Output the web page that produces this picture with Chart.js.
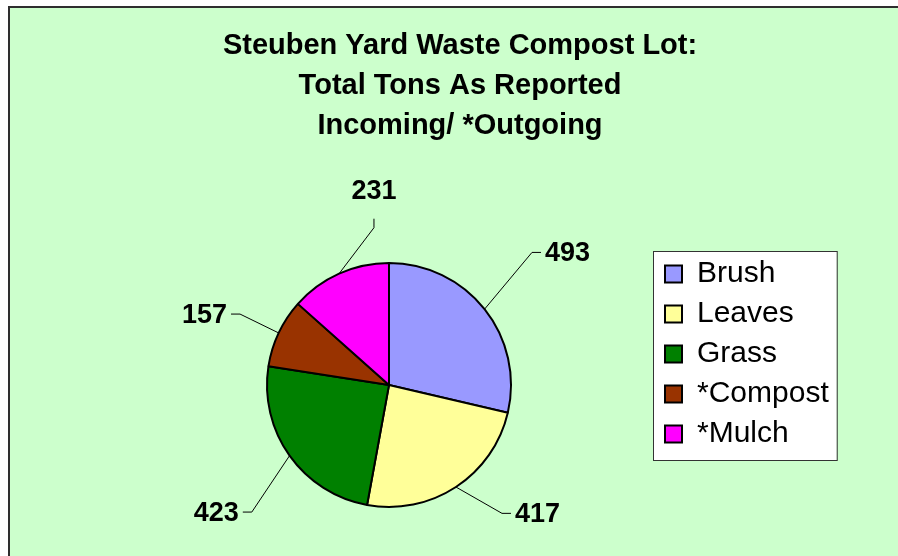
<!DOCTYPE html>
<html>
<head>
<meta charset="utf-8">
<title>Steuben Yard Waste Compost Lot</title>
<script src="https://cdn.jsdelivr.net/npm/chart.js@4/dist/chart.umd.min.js"></script>
<style>
    html, body {
        margin: 0;
        padding: 0;
        width: 898px;
        height: 556px;
        overflow: hidden;
        background: #ffffff;
    }
    .panel {
        position: absolute;
        left: 8px;
        top: 6px;
        width: 1000px;
        height: 1000px;
        border: 2px solid #2e2e2e;
        background: #ccffcc;
    }
    .chart-wrap {
        position: absolute;
        left: 0;
        top: 0;
        width: 898px;
        height: 556px;
    }
</style>
</head>
<body>
<div class="panel"></div>
<div class="chart-wrap"><canvas id="compostChart" width="898" height="556"></canvas></div>
<script>
// Chart data
const categories = ['Brush', 'Leaves', 'Grass', '*Compost', '*Mulch'];
const tons = [493, 417, 423, 157, 231];
const sliceColors = ['#9999ff', '#ffff99', '#008000', '#993300', '#ff00ff'];
const titleLines = ['Steuben Yard Waste Compost Lot:', 'Total Tons As Reported', 'Incoming/ *Outgoing'];

// Leader line layout (degrees turned from slice middle, px beyond the rim)
const leaderTurn = [-4.4, -8.1, -7.4, 0.2, 18.7];
const leaderReach = [73, 49, 65, 43, 36];

const FONT = '"Liberation Sans", Arial, Helvetica, sans-serif';
Chart.defaults.font.family = FONT;
Chart.defaults.color = '#000000';

/**
 * White framed box behind the legend
 */
const legendFrame = {
    id: 'legendFrame',
    afterLayout(chart) {
        // legend only reserves a narrow slot; let its labels run past it without clipping
        const legend = chart.legend;
        if (!legend) return;
        legend.width = 200;
        legend.right = legend.left + legend.width;
    },
    beforeDraw(chart) {
        const legend = chart.legend;
        if (!legend || !legend.legendHitBoxes || !legend.legendHitBoxes.length) return;
        const boxes = legend.legendHitBoxes;
        const first = boxes[0];
        const last = boxes[boxes.length - 1];
        const left = first.left - 12;
        const top = first.top - 8;
        const right = Math.max(...boxes.map(b => b.left + b.width)) + 8;
        const bottom = last.top + last.height + 11;
        const ctx = chart.ctx;
        ctx.save();
        ctx.fillStyle = '#ffffff';
        ctx.fillRect(left, top, right - left, bottom - top);
        ctx.strokeStyle = '#333333';
        ctx.lineWidth = 1;
        ctx.strokeRect(left + 0.5, top + 0.5, right - left, bottom - top);
        ctx.restore();
    }
};

/**
 * Value labels with leader lines
 */
const valueLabels = {
    id: 'valueLabels',
    afterDatasetsDraw(chart) {
        const ctx = chart.ctx;
        const meta = chart.getDatasetMeta(0);
        ctx.save();
        ctx.strokeStyle = '#000000';
        ctx.fillStyle = '#000000';
        ctx.lineWidth = 1;
        ctx.font = 'bold 27px ' + FONT;
        meta.data.forEach((arc, i) => {
            const p = arc.getProps(['x', 'y', 'startAngle', 'endAngle', 'outerRadius'], true);
            const mid = (p.startAngle + p.endAngle) / 2;
            const bend = mid + leaderTurn[i] * Math.PI / 180;
            const reach = p.outerRadius + leaderReach[i];
            const sx = p.x + Math.cos(mid) * p.outerRadius;
            const sy = p.y + Math.sin(mid) * p.outerRadius;
            const ex = p.x + Math.cos(bend) * reach;
            const ey = p.y + Math.sin(bend) * reach;
            const text = String(tons[i]);

            ctx.beginPath();
            ctx.moveTo(sx, sy);
            ctx.lineTo(ex, ey);
            if (Math.abs(Math.cos(bend)) < 0.25) {
                // label above / below the pie
                const dir = Math.sin(bend) < 0 ? -1 : 1;
                const ty = ey + dir * 9;
                ctx.lineTo(ex, ty);
                ctx.stroke();
                ctx.textAlign = 'center';
                ctx.textBaseline = 'middle';
                ctx.fillText(text, ex, ty + dir * 27);
            } else {
                const dir = Math.cos(bend) < 0 ? -1 : 1;
                const tx = ex + dir * 9;
                ctx.lineTo(tx, ey);
                ctx.stroke();
                ctx.textAlign = dir < 0 ? 'right' : 'left';
                ctx.textBaseline = 'middle';
                ctx.fillText(text, tx + dir * 4, ey + 1);
            }
        });
        ctx.restore();
    }
};

const ctx = document.getElementById('compostChart').getContext('2d');
new Chart(ctx, {
    type: 'pie',
    data: {
        labels: categories,
        datasets: [{
            data: tons,
            backgroundColor: sliceColors,
            borderColor: '#000000',
            borderWidth: 2,
            hoverOffset: 0,
            radius: 122
        }]
    },
    options: {
        responsive: false,
        animation: false,
        events: [],
        layout: {
            padding: { left: 123, right: 101, top: 6, bottom: 35 }
        },
        plugins: {
            title: {
                display: true,
                text: titleLines,
                color: '#000000',
                font: { size: 29, weight: 'bold', lineHeight: '40px' },
                padding: { top: 20, bottom: 103 }
            },
            legend: {
                display: true,
                position: 'right',
                align: 'start',
                fullSize: false,
                maxWidth: 142,
                labels: {
                    color: '#000000',
                    font: { size: 30 },
                    boxWidth: 17,
                    boxHeight: 17,
                    padding: 10
                }
            },
            tooltip: { enabled: false }
        }
    },
    plugins: [legendFrame, valueLabels]
});
</script>
</body>
</html>
